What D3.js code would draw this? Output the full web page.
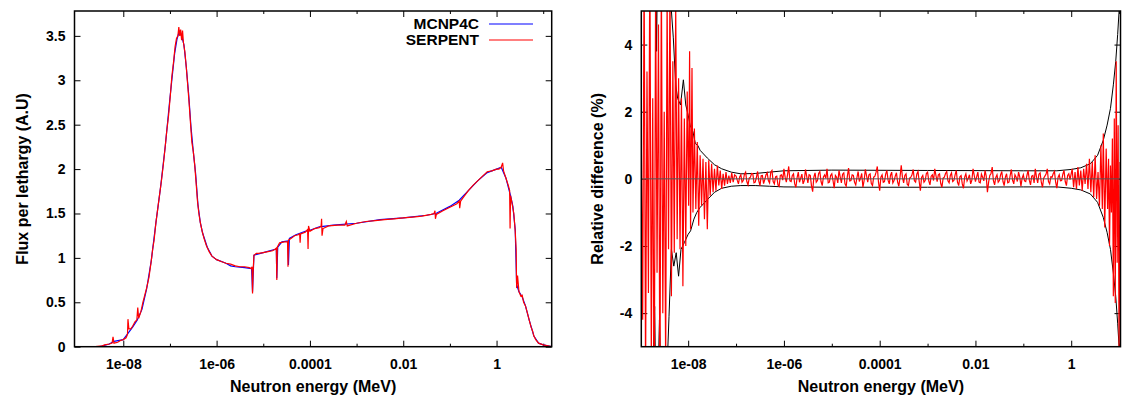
<!DOCTYPE html>
<html>
<head>
<meta charset="utf-8">
<script src="https://cdn.jsdelivr.net/npm/d3@7"></script>
<style>
  body { margin: 0; background: #fff; }
  text { font-family: "Liberation Sans", Arial, sans-serif; font-weight: bold; }
</style>
</head>
<body>
<svg id="chart" width="1122" height="396"></svg>
<script>
// x tick labels (log energy axis, MeV)
const xMajor = [1e-8, 1e-6, 1e-4, 1e-2, 1];
const xMinor = [1e-7, 1e-5, 1e-3, 1e-1, 10];
const xTickLabels = ['1e-08', '1e-06', '0.0001', '0.01', '1'];

const fluxTicks = [0, 0.5, 1, 1.5, 2, 2.5, 3, 3.5];
const fluxTickLabels = ['0', '0.5', '1', '1.5', '2', '2.5', '3', '3.5'];
const diffTicks = [-4, -2, 0, 2, 4];
const diffTickLabels = ['-4', '-2', '0', '2', '4'];

const seriesNames = ['MCNP4C', 'SERPENT'];

// flux per lethargy, [log10(E / MeV), flux]
const serpentFlux = [
  [-9.05,0],[-8.6,0],[-8.45,0.01],[-8.4,0.02],[-8.3,0.03],[-8.24,0.04],[-8.22,0.11],[-8.2,0.04],[-8.12,0.05],
  [-8.06,0.07],[-8.0,0.08],[-7.94,0.1],[-7.91,0.14],[-7.9,0.31],[-7.88,0.2],[-7.84,0.2],[-7.8,0.23],[-7.75,0.28],
  [-7.71,0.3],[-7.69,0.44],[-7.67,0.32],[-7.62,0.4],[-7.58,0.5],[-7.52,0.62],[-7.5,0.66],[-7.45,0.78],[-7.4,0.97],
  [-7.37,1.1],[-7.34,1.2],[-7.3,1.4],[-7.26,1.56],[-7.22,1.72],[-7.18,1.88],[-7.14,2.06],[-7.1,2.26],[-7.07,2.42],
  [-7.03,2.6],[-6.99,2.84],[-6.96,3.04],[-6.92,3.22],[-6.89,3.38],[-6.86,3.47],[-6.83,3.5],[-6.81,3.6],[-6.79,3.5],
  [-6.77,3.57],[-6.75,3.45],[-6.73,3.56],[-6.71,3.42],[-6.68,3.32],[-6.65,3.15],[-6.62,2.95],[-6.59,2.75],[-6.56,2.52],
  [-6.53,2.3],[-6.5,2.2],[-6.47,2.05],[-6.44,1.85],[-6.41,1.64],[-6.38,1.5],[-6.35,1.4],[-6.31,1.3],[-6.27,1.22],
  [-6.22,1.14],[-6.16,1.07],[-6.1,1.02],[-6.0,0.98],[-5.9,0.96],[-5.8,0.94],[-5.7,0.93],[-5.6,0.91],[-5.5,0.9],
  [-5.4,0.9],[-5.3,0.89],[-5.26,0.88],[-5.24,0.9],[-5.23,0.6],[-5.22,0.82],[-5.2,1.03],[-5.15,1.05],[-5.1,1.05],
  [-5.0,1.06],[-4.9,1.07],[-4.8,1.08],[-4.74,1.1],[-4.72,1.11],[-4.71,0.75],[-4.7,1.12],[-4.65,1.17],[-4.55,1.18],
  [-4.48,1.18],[-4.47,0.9],[-4.46,1.2],[-4.4,1.22],[-4.33,1.25],[-4.25,1.26],[-4.22,1.27],[-4.21,1.17],[-4.2,1.27],
  [-4.1,1.29],[-4.05,1.32],[-4.04,1.1],[-4.03,1.36],[-4.0,1.3],[-3.9,1.33],[-3.8,1.34],[-3.76,1.36],[-3.75,1.44],
  [-3.74,1.25],[-3.72,1.33],[-3.6,1.36],[-3.4,1.37],[-3.25,1.37],[-3.22,1.41],[-3.2,1.36],[-3.0,1.39],[-2.8,1.41],
  [-2.6,1.42],[-2.4,1.43],[-2.2,1.44],[-2.0,1.45],[-1.8,1.46],[-1.6,1.47],[-1.4,1.49],[-1.34,1.5],[-1.32,1.53],
  [-1.31,1.44],[-1.29,1.49],[-1.15,1.53],[-1.0,1.57],[-0.85,1.61],[-0.8,1.64],[-0.79,1.56],[-0.77,1.64],[-0.7,1.69],
  [-0.6,1.76],[-0.5,1.82],[-0.4,1.87],[-0.3,1.92],[-0.2,1.97],[-0.1,1.98],[0.0,2.0],[0.05,2.0],[0.1,2.02],[0.13,2.07],
  [0.15,1.98],[0.2,1.9],[0.25,1.82],[0.28,1.76],[0.29,1.33],[0.3,1.7],[0.33,1.62],[0.37,1.5],[0.4,1.3],[0.42,1.1],
  [0.43,0.66],[0.45,0.8],[0.48,0.62],[0.52,0.57],[0.55,0.58],[0.58,0.5],[0.62,0.46],[0.66,0.38],[0.7,0.3],[0.74,0.22],
  [0.77,0.18],[0.8,0.12],[0.84,0.08],[0.9,0.04],[1.0,0.02],[1.1,0.01],[1.18,0]
];

const mcnpFlux = [
  [-9.05,0],[-8.5,0],[-8.3,0.03],[-8.2,0.06],[-8.0,0.08],[-7.9,0.15],[-7.8,0.22],[-7.7,0.3],[-7.6,0.42],[-7.5,0.65],
  [-7.4,0.97],[-7.3,1.4],[-7.2,1.8],[-7.1,2.26],[-7.0,2.8],[-6.9,3.3],[-6.85,3.46],[-6.8,3.55],[-6.75,3.5],[-6.7,3.4],
  [-6.65,3.15],[-6.6,2.85],[-6.55,2.48],[-6.5,2.2],[-6.45,1.95],[-6.4,1.6],[-6.35,1.4],[-6.3,1.28],[-6.2,1.12],
  [-6.1,1.02],[-6.0,0.98],[-5.8,0.94],[-5.7,0.91],[-5.6,0.9],[-5.4,0.89],[-5.25,0.88],[-5.23,0.62],[-5.2,1.03],
  [-5.0,1.06],[-4.72,1.1],[-4.71,0.77],[-4.69,1.12],[-4.6,1.18],[-4.47,1.19],[-4.46,0.92],[-4.44,1.22],[-4.3,1.26],
  [-4.1,1.3],[-4.0,1.31],[-3.8,1.35],[-3.5,1.37],[-3.0,1.39],[-2.5,1.43],[-2.0,1.45],[-1.5,1.48],[-1.3,1.5],
  [-1.0,1.58],[-0.8,1.65],[-0.6,1.76],[-0.4,1.87],[-0.2,1.96],[0,2.0],[0.1,2.02],[0.2,1.9],[0.3,1.7],[0.35,1.58],
  [0.4,1.32],[0.43,0.7],[0.48,0.62],[0.55,0.56],[0.62,0.46],[0.7,0.3],[0.8,0.12],[0.9,0.04],[1.0,0.02],[1.18,0]
];

// relative difference (%), [log10(E / MeV), value]
const relDiff = [
  [-8.98,1.5],[-8.95,-4.2],[-8.92,6.5],[-8.89,-6],[-8.86,3.2],[-8.83,-3.4],[-8.8,7],[-8.77,-5.5],[-8.74,2.4],
  [-8.71,-7.5],[-8.68,5.8],[-8.65,-2.8],[-8.62,4.6],[-8.59,-6.8],[-8.56,6.2],[-8.53,-4],[-8.5,2],[-8.47,-5.6],
  [-8.44,5.5],[-8.41,-2.1],[-8.38,6],[-8.35,-3.5],[-8.32,3.5],[-8.29,-2.2],[-8.26,5.2],[-8.23,-1.8],[-8.2,3],
  [-8.17,-2.1],[-8.14,2.4],[-8.11,-3.2],[-8.08,1.8],[-8.05,-2],[-8.02,2.6],[-7.99,-0.8],[-7.97,3.8],[-7.95,-1.5],
  [-7.92,3.3],[-7.9,-1],[-7.87,1.5],[-7.84,-0.9],[-7.81,1.1],[-7.78,-1.4],[-7.75,0.7],[-7.72,-0.8],[-7.69,0.6],
  [-7.66,-1.2],[-7.63,0.5],[-7.6,-1.5],[-7.57,0.55],[-7.54,-0.5],[-7.51,0.45],[-7.48,-0.4],[-7.45,0.3],[-7.42,-0.35],
  [-7.39,0.4],[-7.36,-0.2],[-7.33,0.25],[-7.3,-0.3],[-7.27,0.15],[-7.24,-0.2],[-7.21,0.2],[-7.18,-0.15],[-7.15,0.1],
  [-7.12,-0.12],[-7.09,0.18],[-7.06,-0.1],[-7.03,0.12],
  [-7.000,0.08],[-6.975,-0.04],[-6.950,-0.15],[-6.925,0.06],[-6.900,0.12],[-6.875,-0.1],[-6.850,-0.05],[-6.825,0.14],
  [-6.800,0.2],[-6.775,-0.08],[-6.750,-0.18],[-6.725,0.02],[-6.700,0.05],[-6.675,0.16],[-6.650,0.15],[-6.625,-0.12],
  [-6.600,-0.1],[-6.575,0.04],[-6.550,0.22],[-6.525,-0.06],[-6.500,-0.2],[-6.475,0.09],[-6.450,0.1],[-6.425,-0.14],
  [-6.400,-0.02],[-6.375,0.12],[-6.350,0.18],[-6.325,-0.05],[-6.300,-0.12],[-6.275,0.2],[-6.250,0.25],[-6.225,-0.08],
  [-6.200,-0.15],[-6.175,0.06],[-6.150,0.08],[-6.125,-0.18],[-6.100,-0.22],[-6.075,0.1],[-6.050,0.12],[-6.025,-0.04],
  [-6.000,0.3],[-5.975,0.05],[-5.950,-0.1],[-5.925,0.12],[-5.900,0.37],[-5.875,-0.06],[-5.850,-0.08],[-5.825,0.1],
  [-5.800,0.15],[-5.775,-0.15],[-5.750,-0.25],[-5.725,0.04],[-5.700,0.2],[-5.675,-0.1],[-5.650,0.02],[-5.625,0.14],
  [-5.600,-0.15],[-5.575,-0.05],[-5.550,0.28],[-5.525,0.08],[-5.500,-0.12],[-5.475,0.12],[-5.450,0.1],[-5.425,-0.2],
  [-5.400,-0.38],[-5.375,0.05],[-5.350,0.18],[-5.325,-0.1],[-5.300,-0.05],[-5.275,0.16],[-5.250,0.22],[-5.225,-0.08],
  [-5.200,-0.2],[-5.175,0.06],[-5.150,0.12],[-5.125,0.02],[-5.100,0.3],[-5.075,-0.12],[-5.050,-0.1],[-5.025,0.1],
  [-5.000,0.15],[-4.975,-0.05],[-4.950,-0.28],[-4.925,0.1],[-4.900,0.05],[-4.875,-0.12],[-4.850,0.25],[-4.825,0.06],
  [-4.800,-0.12],[-4.775,0.14],[-4.750,0.18],[-4.725,-0.15],[-4.700,-0.22],[-4.675,0.08],[-4.650,0.32],[-4.625,-0.06],
  [-4.600,-0.05],[-4.575,0.12],[-4.550,0.1],[-4.525,-0.1],[-4.500,-0.18],[-4.475,0.04],[-4.450,0.22],[-4.425,-0.08],
  [-4.400,0.02],[-4.375,0.16],[-4.350,-0.25],[-4.325,-0.05],[-4.300,0.28],[-4.275,0.1],[-4.250,-0.1],[-4.225,0.12],
  [-4.200,0.15],[-4.175,-0.14],[-4.150,-0.2],[-4.125,0.05],[-4.100,0.08],[-4.075,0.2],[-4.050,0.37],[-4.025,-0.1],
  [-4.000,-0.35],[-3.975,0.05],[-3.950,0.12],[-3.925,-0.1],[-3.900,-0.08],[-3.875,0.14],[-3.850,0.25],[-3.825,-0.04],
  [-3.800,-0.15],[-3.775,0.1],[-3.750,0.2],[-3.725,-0.12],[-3.700,-0.05],[-3.675,0.08],[-3.650,0.18],[-3.625,-0.1],
  [-3.600,-0.22],[-3.575,0.06],[-3.550,0.4],[-3.525,0.05],[-3.500,-0.12],[-3.475,0.1],[-3.450,0.15],[-3.425,-0.16],
  [-3.400,-0.2],[-3.375,0.02],[-3.350,0.05],[-3.325,0.12],[-3.300,0.28],[-3.275,-0.06],[-3.250,-0.1],[-3.225,0.14],
  [-3.200,0.22],[-3.175,-0.08],[-3.150,-0.35],[-3.125,0.04],[-3.100,0.1],[-3.075,-0.1],[-3.050,-0.05],[-3.025,0.16],
  [-3.000,0.2],[-2.975,-0.06],[-2.950,-0.18],[-2.925,0.08],[-2.900,0.12],[-2.875,-0.05],[-2.850,0.3],[-2.825,0.1],
  [-2.800,-0.08],[-2.775,0.12],[-2.750,0.15],[-2.725,-0.14],[-2.700,-0.25],[-2.675,0.02],[-2.650,0.05],[-2.625,0.16],
  [-2.600,0.22],[-2.575,-0.06],[-2.550,-0.12],[-2.525,0.1],[-2.500,0.18],[-2.475,-0.08],[-2.450,-0.05],[-2.425,0.12],
  [-2.400,0.25],[-2.375,-0.1],[-2.350,-0.2],[-2.325,0.06],[-2.300,0.1],[-2.275,-0.15],[-2.250,-0.28],[-2.225,0.05],
  [-2.200,0.15],[-2.175,-0.06],[-2.150,0.02],[-2.125,0.12],[-2.100,-0.15],[-2.075,-0.04],[-2.050,0.3],[-2.025,0.1],
  [-2.000,-0.08],[-1.975,0.06],[-1.950,0.2],[-1.925,-0.1],[-1.900,-0.12],[-1.875,0.14],[-1.850,0.05],[-1.825,-0.06],
  [-1.800,0.25],[-1.775,0.08],[-1.750,-0.4],[-1.725,-0.1],[-1.700,0.1],[-1.675,0.16],[-1.650,0.35],[-1.625,-0.05],
  [-1.600,-0.18],[-1.575,0.04],[-1.550,0.12],[-1.525,-0.1],[-1.500,-0.05],[-1.475,0.12],[-1.450,0.22],[-1.425,-0.08],
  [-1.400,-0.2],[-1.375,0.05],[-1.350,0.15],[-1.325,-0.12],[-1.300,-0.1],[-1.275,0.1],[-1.250,0.28],[-1.225,-0.04],
  [-1.200,-0.15],[-1.175,0.12],[-1.150,0.05],[-1.125,-0.08],[-1.100,0.2],[-1.075,0.06],[-1.050,-0.22],[-1.025,0.02],
  [-1.000,0.12],[-0.975,-0.06],[-0.950,-0.08],[-0.925,0.1],[-0.900,0.25],[-0.875,-0.04],[-0.850,-0.18],[-0.825,0.08],
  [-0.800,0.1],[-0.775,-0.12],[-0.750,0.3],[-0.725,0.05],[-0.700,-0.12],[-0.675,0.14],[-0.650,0.18],[-0.625,-0.1],
  [-0.600,-0.25],[-0.575,0.02],[-0.550,0.08],[-0.525,0.14],[-0.500,0.3],[-0.475,-0.08],[-0.450,-0.15],[-0.425,0.06],
  [-0.400,0.05],[-0.375,0.16],[-0.350,0.22],[-0.325,-0.1],[-0.300,-0.28],[-0.275,0.04],[-0.250,0.12],[-0.225,-0.06],
  [-0.200,-0.05],[-0.175,0.14],[-0.150,0.25],[-0.125,-0.08],[-0.100,-0.2],[-0.075,0.1],[-0.050,0.15],[-0.025,-0.02],
  [0.02,0.3],[0.05,-0.25],[0.08,0.2],[0.11,-0.3],[0.14,0.35],[0.17,-0.2],[0.2,0.25],[0.23,-0.35],[0.26,0.3],[0.29,-0.15],
  [0.32,0.45],[0.35,-0.3],[0.38,0.6],[0.41,-0.4],[0.44,0.5],[0.47,-0.55],[0.5,0.7],[0.53,-0.6],[0.56,0.2],[0.59,-0.8],
  [0.62,1.0],[0.65,-0.9],[0.67,1.35],[0.7,-1.45],[0.73,0.9],[0.76,-0.9],[0.78,0.6],[0.8,-2.0],[0.82,0.4],[0.84,-1.0],
  [0.86,1.2],[0.88,-3.5],[0.9,1.8],[0.92,-3.7],[0.94,3.5],[0.96,-2.5],[0.98,1.6],[1.0,-5.5],[1.02,0.5]
];

// statistical envelope (%), upper and lower
const envUpper = [
  [-8.98,14],[-8.75,11],[-8.68,7],[-8.66,3.8],[-8.63,8],[-8.5,7],[-8.42,6],[-8.36,5.2],[-8.31,4.2],[-8.26,2.8],
  [-8.22,2.4],[-8.16,2.2],[-8.1,2.95],[-8.05,2.2],[-8.0,1.9],[-7.96,1.6],[-7.9,1.4],[-7.85,1.05],[-7.8,1.0],
  [-7.75,0.85],[-7.6,0.62],[-7.45,0.42],[-7.3,0.3],[-7.1,0.2],[-6.9,0.15],[-6.6,0.16],[-6.3,0.2],[-6.0,0.24],
  [-5.0,0.26],[-3,0.25],[-1,0.24],[-0.3,0.24],[0,0.28],[0.2,0.33],[0.4,0.45],[0.55,0.7],[0.67,1.15],[0.75,1.6],
  [0.82,2.1],[0.88,2.8],[0.93,3.5],[0.97,4.3],[1.0,5.0],[1.03,6]
];
const envLower = [
  [-8.98,-12],[-8.8,-9],[-8.7,-3.8],[-8.66,-8],[-8.6,-4.2],[-8.55,-7],[-8.45,-6],[-8.4,-4.1],[-8.35,-2.1],
  [-8.3,-2.6],[-8.25,-2.2],[-8.2,-2.9],[-8.15,-2.1],[-8.08,-1.9],[-8.0,-1.65],[-7.95,-1.55],[-7.88,-1.2],
  [-7.82,-1.0],[-7.75,-0.85],[-7.6,-0.62],[-7.45,-0.4],[-7.3,-0.28],[-7.1,-0.22],[-6.9,-0.2],[-6.6,-0.2],
  [-6.3,-0.22],[-6.0,-0.24],[-5.0,-0.25],[-3,-0.25],[-1,-0.24],[-0.3,-0.24],[0,-0.28],[0.2,-0.33],[0.4,-0.45],
  [0.55,-0.7],[0.67,-1.15],[0.75,-1.6],[0.82,-2.1],[0.88,-2.8],[0.93,-3.5],[0.97,-4.3],[1.0,-5.0],[1.03,-6]
];

const svg = d3.select('#chart');

function makePanel(id, left, top, width, height, xDomain, yDomain, yTicks, yLabels) {
  const g = svg.append('g').attr('transform', `translate(${left},${top})`);
  const x = d3.scaleLog().domain(xDomain).range([0, width]);
  const y = d3.scaleLinear().domain(yDomain).range([height, 0]);

  g.append('clipPath').attr('id', id)
    .append('rect').attr('width', width).attr('height', height);

  const style = sel => {
    sel.attr('font-size', 14).attr('font-family', null);
    sel.select('.domain').remove();
    sel.selectAll('line').attr('stroke', '#000');
    sel.selectAll('text').attr('fill', '#000');
  };

  g.append('g').attr('transform', `translate(0,${height})`)
    .call(d3.axisBottom(x).tickValues(xMajor).tickFormat((d, i) => xTickLabels[i])
      .tickSizeInner(-6).tickSizeOuter(0).tickPadding(12))
    .call(style);
  g.append('g').attr('transform', `translate(0,${height})`)
    .call(d3.axisBottom(x).tickValues(xMinor).tickFormat('').tickSize(-3))
    .call(style);
  g.append('g')
    .call(d3.axisTop(x).tickValues(xMajor).tickFormat('').tickSize(-6))
    .call(style);
  g.append('g')
    .call(d3.axisTop(x).tickValues(xMinor).tickFormat('').tickSize(-3))
    .call(style);
  g.append('g')
    .call(d3.axisLeft(y).tickValues(yTicks).tickFormat((d, i) => yLabels[i])
      .tickSizeInner(-6).tickSizeOuter(0).tickPadding(9))
    .call(style);
  g.append('g').attr('transform', `translate(${width},0)`)
    .call(d3.axisRight(y).tickValues(yTicks).tickFormat('').tickSize(-6))
    .call(style);

  const plot = g.append('g').attr('clip-path', `url(#${id})`);
  const line = d3.line().x(d => x(Math.pow(10, d[0]))).y(d => y(d[1]));
  return { g, plot, line, x, y, width, height };
}

// ---- left: flux spectrum
const L = makePanel('clipL', 74.5, 11, 477.2, 335.7, [9e-10, 15.2], [0, 3.78], fluxTicks, fluxTickLabels);

L.plot.append('path').datum(mcnpFlux)
  .attr('fill', 'none').attr('stroke', '#0000ff').attr('stroke-width', 1.2)
  .attr('d', L.line);
L.plot.append('path').datum(serpentFlux)
  .attr('fill', 'none').attr('stroke', '#ff0000').attr('stroke-width', 1.2)
  .attr('d', L.line);

L.g.append('rect').attr('width', L.width).attr('height', L.height)
  .attr('fill', 'none').attr('stroke', '#000').attr('stroke-width', 1.5);

// legend
const legend = L.g.append('g');
seriesNames.forEach((name, i) => {
  const yy = 13 + i * 16;
  legend.append('text').attr('x', 404.5).attr('y', yy).attr('dy', '0.35em')
    .attr('text-anchor', 'end').attr('font-size', 15.5).text(name);
  legend.append('line').attr('x1', 414.5).attr('x2', 458.5).attr('y1', yy).attr('y2', yy)
    .attr('stroke', i === 0 ? '#0000ff' : '#ff0000').attr('stroke-width', 1.2);
});

L.g.append('text').attr('x', L.width / 2).attr('y', 381)
  .attr('text-anchor', 'middle').attr('font-size', 16).text('Neutron energy (MeV)');
L.g.append('text').attr('transform', `translate(-47,${L.height / 2}) rotate(-90)`)
  .attr('text-anchor', 'middle').attr('font-size', 16).text('Flux per lethargy (A.U)');

// ---- right: relative difference
const R = makePanel('clipR', 641.3, 11, 479.2, 335.7, [1.05e-9, 10.7], [-5, 5], diffTicks, diffTickLabels);

R.plot.append('path').datum(envUpper)
  .attr('fill', 'none').attr('stroke', '#000').attr('stroke-width', 1)
  .attr('d', R.line);
R.plot.append('path').datum(envLower)
  .attr('fill', 'none').attr('stroke', '#000').attr('stroke-width', 1)
  .attr('d', R.line);
R.plot.append('path').datum(relDiff)
  .attr('fill', 'none').attr('stroke', '#ff0000').attr('stroke-width', 1.2)
  .attr('d', R.line);
R.plot.append('line').attr('x1', 0).attr('x2', R.width)
  .attr('y1', R.y(0)).attr('y2', R.y(0))
  .attr('stroke', '#555').attr('stroke-width', 1);

R.g.append('rect').attr('width', R.width).attr('height', R.height)
  .attr('fill', 'none').attr('stroke', '#000').attr('stroke-width', 1.5);

R.g.append('text').attr('x', R.width / 2).attr('y', 381)
  .attr('text-anchor', 'middle').attr('font-size', 16).text('Neutron energy (MeV)');
R.g.append('text').attr('transform', `translate(-38,${R.height / 2}) rotate(-90)`)
  .attr('text-anchor', 'middle').attr('font-size', 16).text('Relative difference (%)');
</script>
</body>
</html>
